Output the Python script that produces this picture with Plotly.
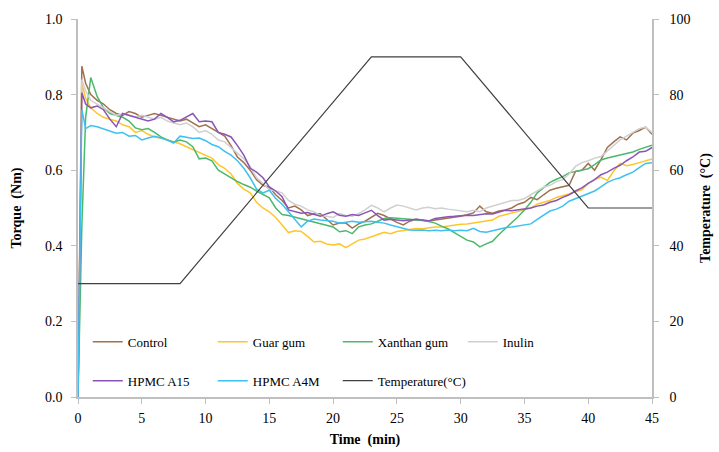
import plotly.graph_objects as go

# time grid (min)
time = [0, 0.3, 0.6, 1.0] + [1.5 + 0.5 * i for i in range(88)]

control = [0, 0.875, 0.83, 0.80,
           0.785, 0.775, 0.76, 0.75, 0.745, 0.755, 0.75, 0.74,
           0.745, 0.75, 0.745, 0.74, 0.735, 0.73, 0.735, 0.725, 0.715, 0.72,
           0.71, 0.70, 0.69, 0.665, 0.635, 0.62, 0.60, 0.575, 0.56, 0.555,
           0.535, 0.52, 0.50, 0.505, 0.495, 0.48, 0.485, 0.485, 0.47, 0.455,
           0.46, 0.46, 0.447, 0.458, 0.465, 0.475, 0.486, 0.48, 0.47, 0.462,
           0.455, 0.465, 0.47, 0.468, 0.465, 0.468, 0.47, 0.472, 0.475, 0.478,
           0.482, 0.487, 0.505, 0.49, 0.486, 0.492, 0.495, 0.50, 0.51, 0.515,
           0.528, 0.522, 0.535, 0.547, 0.552, 0.556, 0.56, 0.597, 0.60, 0.618,
           0.60, 0.628, 0.66, 0.675, 0.688, 0.68, 0.698, 0.705, 0.714, 0.695]

guar = [0, 0.83, 0.79, 0.765,
        0.75, 0.74, 0.735, 0.73, 0.72, 0.715, 0.70, 0.705,
        0.695, 0.688, 0.685, 0.68, 0.675, 0.67, 0.662, 0.655, 0.648, 0.64,
        0.632, 0.615, 0.605, 0.59, 0.565, 0.55, 0.54, 0.515, 0.50, 0.49,
        0.475, 0.455, 0.435, 0.44, 0.438, 0.425, 0.41, 0.412, 0.405, 0.402,
        0.405, 0.395, 0.405, 0.415, 0.418, 0.423, 0.43, 0.436, 0.432, 0.438,
        0.44, 0.443, 0.446, 0.445, 0.448, 0.45, 0.45, 0.453, 0.455, 0.457,
        0.458, 0.46, 0.462, 0.466, 0.468, 0.478, 0.482, 0.485, 0.49, 0.495,
        0.50, 0.51, 0.515, 0.52, 0.528, 0.532, 0.537, 0.543, 0.548, 0.565,
        0.575, 0.582, 0.573, 0.598, 0.618, 0.612, 0.615, 0.62, 0.625, 0.63]

xanthan = [0, 0.45, 0.74, 0.845,
           0.795, 0.765, 0.75, 0.745, 0.74, 0.73, 0.712, 0.707,
           0.71, 0.70, 0.688, 0.68, 0.674, 0.68, 0.675, 0.662, 0.63, 0.632,
           0.625, 0.60, 0.59, 0.578, 0.57, 0.562, 0.555, 0.545, 0.535, 0.527,
           0.50, 0.483, 0.48, 0.476, 0.472, 0.468, 0.463, 0.46, 0.455, 0.45,
           0.437, 0.44, 0.432, 0.45, 0.455, 0.458, 0.465, 0.472, 0.474, 0.473,
           0.472, 0.47, 0.468, 0.467, 0.464, 0.46, 0.452, 0.445, 0.435, 0.424,
           0.415, 0.41, 0.397, 0.405, 0.412, 0.43, 0.445, 0.46, 0.477, 0.495,
           0.515, 0.54, 0.555, 0.568, 0.576, 0.583, 0.593, 0.597, 0.60, 0.604,
           0.615, 0.627, 0.632, 0.636, 0.64, 0.643, 0.648, 0.655, 0.66, 0.666]

inulin = [0, 0.84, 0.81, 0.785,
          0.775, 0.765, 0.755, 0.745, 0.75, 0.745, 0.74, 0.745,
          0.74, 0.735, 0.74, 0.73, 0.725, 0.72, 0.725, 0.715, 0.70, 0.705,
          0.695, 0.68, 0.675, 0.66, 0.645, 0.63, 0.61, 0.58, 0.565, 0.548,
          0.545, 0.54, 0.52, 0.51, 0.505, 0.495, 0.49, 0.48, 0.478, 0.475,
          0.485, 0.48, 0.478, 0.485, 0.495, 0.507, 0.50, 0.49, 0.50, 0.508,
          0.505, 0.50, 0.495, 0.50, 0.502, 0.498, 0.50, 0.497, 0.495, 0.492,
          0.49, 0.494, 0.49, 0.50, 0.505, 0.51, 0.515, 0.52, 0.52, 0.525,
          0.535, 0.545, 0.555, 0.56, 0.57, 0.575, 0.59, 0.61, 0.62, 0.625,
          0.632, 0.636, 0.65, 0.665, 0.68, 0.69, 0.70, 0.71, 0.714, 0.70]

hpmc_a15 = [0, 0.805, 0.775, 0.765,
            0.77, 0.76, 0.735, 0.715, 0.75, 0.745, 0.74, 0.735,
            0.73, 0.735, 0.75, 0.74, 0.728, 0.732, 0.74, 0.75, 0.728, 0.73,
            0.728, 0.70, 0.695, 0.688, 0.665, 0.64, 0.605, 0.595, 0.58, 0.556,
            0.545, 0.53, 0.495, 0.49, 0.486, 0.488, 0.484, 0.478, 0.485, 0.49,
            0.481, 0.478, 0.483, 0.48, 0.487, 0.494, 0.48, 0.468, 0.47, 0.468,
            0.466, 0.468, 0.47, 0.468, 0.466, 0.472, 0.475, 0.477, 0.478, 0.48,
            0.481, 0.48, 0.482, 0.485, 0.484, 0.49, 0.494, 0.493, 0.495, 0.497,
            0.50, 0.505, 0.508, 0.515, 0.52, 0.528, 0.535, 0.545, 0.553, 0.565,
            0.575, 0.588, 0.595, 0.605, 0.613, 0.625, 0.635, 0.648, 0.65, 0.66]

hpmc_a4m = [0, 0.76, 0.71, 0.718,
            0.715, 0.71, 0.705, 0.698, 0.70, 0.69, 0.692, 0.68,
            0.685, 0.69, 0.685, 0.68, 0.672, 0.69, 0.687, 0.684, 0.685, 0.678,
            0.668, 0.662, 0.65, 0.64, 0.625, 0.605, 0.58, 0.55, 0.54, 0.547,
            0.525, 0.51, 0.49, 0.47, 0.45, 0.465, 0.471, 0.468, 0.466, 0.465,
            0.46, 0.462, 0.465, 0.462, 0.464, 0.465, 0.462, 0.46, 0.455, 0.45,
            0.447, 0.442, 0.441, 0.442, 0.44, 0.441, 0.44, 0.442, 0.44, 0.441,
            0.44, 0.446, 0.438, 0.436, 0.44, 0.445, 0.448, 0.45, 0.452, 0.455,
            0.458, 0.47, 0.48, 0.492, 0.497, 0.505, 0.518, 0.525, 0.53, 0.538,
            0.545, 0.556, 0.568, 0.575, 0.58, 0.588, 0.595, 0.607, 0.618, 0.62]

temp_time = [0, 8, 23, 30, 40, 45]
temp_vals = [30, 30, 90, 90, 50, 50]

series = [
    ("Control", control, "#a0714f", "legend"),
    ("Guar gum", guar, "#ffc629", "legend"),
    ("Xanthan gum", xanthan, "#4cb86c", "legend"),
    ("Inulin", inulin, "#d0d0d0", "legend"),
    ("HPMC A15", hpmc_a15, "#8a55b8", "legend2"),
    ("HPMC A4M", hpmc_a4m, "#3ec0f0", "legend2"),
]

FONT = "Liberation Serif"
AX = "#bfbfbf"

fig = go.Figure()
for name, vals, col, leg in series:
    fig.add_trace(go.Scatter(x=time, y=vals, name=name, mode="lines",
                             line=dict(color=col, width=1.5), legend=leg))
fig.add_trace(go.Scatter(x=temp_time, y=temp_vals, name="Temperature(°C)", mode="lines",
                         line=dict(color="#404040", width=1.2), yaxis="y2",
                         legend="legend2", legendwidth=110))

legend_common = dict(orientation="h", xanchor="left", yanchor="middle",
                     entrywidth=80, entrywidthmode="pixels",
                     bgcolor="rgba(0,0,0,0)", font=dict(family=FONT, size=13, color="#000"),
                     traceorder="normal", itemwidth=30)

fig.update_layout(
    width=719, height=452,
    margin=dict(l=78, r=67, t=19, b=55, autoexpand=False),
    paper_bgcolor="white", plot_bgcolor="white",
    font=dict(family=FONT, size=14, color="#000"),
    showlegend=True,
    legend=dict(x=0.017, y=0.146, **legend_common),
    legend2=dict(x=0.017, y=0.043, **legend_common),
    xaxis=dict(range=[0, 45], tickvals=[0, 5, 10, 15, 20, 25, 30, 35, 40, 45],
               showline=True, linecolor=AX, linewidth=1.5, ticks="outside",
               tickcolor=AX, ticklen=5, showgrid=False, zeroline=False,
               ticklabelstandoff=2, automargin=False,
               tickfont=dict(family=FONT, size=14, color="#000"),
               title=dict(text="<b>Time\u00a0 (min)</b>", standoff=10,
                          font=dict(family=FONT, size=14, color="#000"))),
    yaxis=dict(range=[0, 1.0], tickvals=[0, 0.2, 0.4, 0.6, 0.8, 1.0],
               tickformat=".1f", showline=True, linecolor=AX, linewidth=1.5,
               ticks="outside", tickcolor=AX, ticklen=5, showgrid=False, zeroline=False,
               ticklabelstandoff=6, automargin=False,
               tickfont=dict(family=FONT, size=14, color="#000"),
               title=dict(text="<b>Torque\u00a0 (Nm)</b>", standoff=20,
                          font=dict(family=FONT, size=14, color="#000"))),
    yaxis2=dict(range=[0, 100], tickvals=[0, 20, 40, 60, 80, 100], overlaying="y",
                side="right", showline=True, linecolor=AX, linewidth=1.5,
                ticks="outside", tickcolor=AX, ticklen=5, showgrid=False, zeroline=False,
                ticklabelstandoff=8, automargin=False,
                tickfont=dict(family=FONT, size=14, color="#000"),
                title=dict(text="<b>Temperature\u00a0 (°C)</b>", standoff=11,
                           font=dict(family=FONT, size=14, color="#000"))),
)

fig.write_html("out.html")
